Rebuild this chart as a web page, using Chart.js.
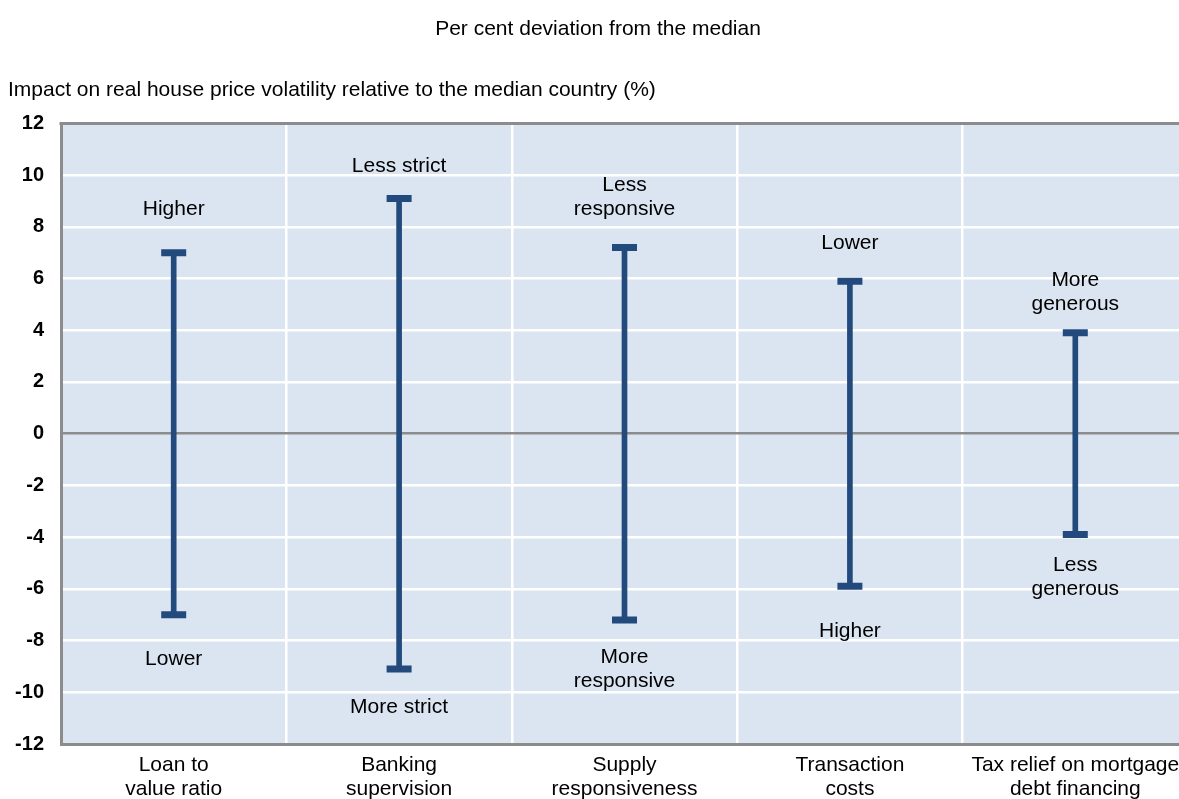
<!DOCTYPE html>
<html>
<head>
<meta charset="utf-8">
<script src="https://cdn.jsdelivr.net/npm/chart.js@4/dist/chart.umd.min.js"></script>
<style>
  html, body { margin: 0; padding: 0; background: #fff; overflow: hidden; }
  #wrap { width: 1190px; height: 799px; }
</style>
</head>
<body>
<div id="wrap"><canvas id="rangeChart" width="1190" height="799"></canvas></div>
<script>
// categories and ranges (per cent deviation from the median)
var categories = [
  ["Loan to", "value ratio"],
  ["Banking", "supervision"],
  ["Supply", "responsiveness"],
  ["Transaction", "costs"],
  ["Tax relief on mortgage", "debt financing"]
];
var highs = [7.0, 9.1, 7.2, 5.9, 3.9];
var lows = [-7.0, -9.1, -7.2, -5.9, -3.9];
var topLabels = [["Higher"], ["Less strict"], ["Less", "responsive"], ["Lower"], ["More", "generous"]];
var bottomLabels = [["Lower"], ["More strict"], ["More", "responsive"], ["Higher"], ["Less", "generous"]];
var yTicks = [12, 10, 8, 6, 4, 2, 0, -2, -4, -6, -8, -10, -12];

var barColor = '#234a7c';
var FONT = "'Liberation Sans', Arial, sans-serif";

// plot background + top border
var plotBg = {
  id: 'plotBg',
  beforeDraw: function (chart) {
    var a = chart.chartArea, ctx = chart.ctx;
    ctx.save();
    ctx.fillStyle = '#dbe5f1';
    ctx.fillRect(a.left, a.top, a.right - a.left, a.bottom - a.top);
    ctx.restore();
  },
  afterDraw: function (chart) {
    var a = chart.chartArea, ctx = chart.ctx;
    ctx.save();
    ctx.strokeStyle = '#8c8c8c';
    ctx.lineWidth = 3;
    ctx.beginPath();
    ctx.moveTo(a.left - 1.5, a.top);
    ctx.lineTo(a.right, a.top);
    ctx.stroke();
    ctx.restore();
  }
};

// text above / below each range
var rangeLabels = {
  id: 'rangeLabels',
  afterDatasetsDraw: function (chart, args, opts) {
    var ctx = chart.ctx, xs = chart.scales.x, ys = chart.scales.y;
    ctx.save();
    ctx.font = '21px ' + FONT;
    ctx.fillStyle = '#000';
    ctx.textAlign = 'center';
    ctx.textBaseline = 'middle';
    for (var i = 0; i < categories.length; i++) {
      var x = xs.getPixelForValue(i);
      var yt = ys.getPixelForValue(highs[i]) - opts.topGap[i];
      var tl = topLabels[i];
      for (var j = 0; j < tl.length; j++) {
        ctx.fillText(tl[j], x, yt - (tl.length - 1 - j) * opts.lineHeight);
      }
      var yb = ys.getPixelForValue(lows[i]) + opts.bottomGap[i];
      var bl = bottomLabels[i];
      for (var k = 0; k < bl.length; k++) {
        ctx.fillText(bl[k], x, yb + k * opts.lineHeight);
      }
    }
    ctx.restore();
  }
};

var rangeData = lows.map(function (l, i) { return [l, highs[i]]; });

new Chart(document.getElementById('rangeChart').getContext('2d'), {
  type: 'bar',
  data: {
    labels: categories,
    datasets: [
      {
        data: rangeData,
        backgroundColor: barColor,
        barThickness: 5,
        borderSkipped: false
      },
      {
        type: 'line',
        data: highs,
        showLine: false,
        pointStyle: 'line',
        pointRadius: 12.5,
        pointBorderWidth: 7,
        pointBorderColor: barColor,
        pointBackgroundColor: barColor
      },
      {
        type: 'line',
        data: lows,
        showLine: false,
        pointStyle: 'line',
        pointRadius: 12.5,
        pointBorderWidth: 7,
        pointBorderColor: barColor,
        pointBackgroundColor: barColor
      }
    ]
  },
  options: {
    responsive: false,
    animation: false,
    layout: { autoPadding: false, padding: { left: 8, right: 2, top: 0, bottom: 0 } },
    plugins: {
      legend: { display: false },
      tooltip: { enabled: false },
      title: {
        display: true,
        text: 'Per cent deviation from the median',
        color: '#000',
        font: { family: FONT, size: 21, weight: 'normal' },
        padding: { top: 17, bottom: 16 }
      },
      subtitle: {
        display: true,
        text: 'Impact on real house price volatility relative to the median country (%)',
        align: 'start',
        color: '#000',
        font: { family: FONT, size: 21 },
        padding: { top: 19, bottom: 21 }
      },
      rangeLabels: { topGap: [43, 32, 38, 38, 29], bottomGap: [44, 38, 37, 45, 31], lineHeight: 24 }
    },
    scales: {
      x: {
        grid: { offset: true, color: '#ffffff', lineWidth: 2.5, drawTicks: false },
        border: { display: true, color: '#8c8c8c', width: 3 },
        ticks: {
          color: '#000',
          font: { family: FONT, size: 21, lineHeight: 1.15 },
          padding: 9,
          maxRotation: 0,
          autoSkip: false
        },
        afterFit: function (s) { s.height = 55; s.paddingLeft = 0; s.paddingRight = 0; }
      },
      y: {
        min: -12,
        max: 12,
        afterBuildTicks: function (s) { s.ticks = yTicks.map(function (v) { return { value: v }; }); },
        grid: {
          drawTicks: false,
          color: function (c) { return c.tick && c.tick.value === 0 ? '#8c8c8c' : '#ffffff'; },
          lineWidth: 2.5
        },
        border: { display: true, color: '#8c8c8c', width: 3 },
        ticks: {
          color: '#000',
          font: { family: FONT, size: 20, weight: 'bold' },
          padding: 17
        },
        afterFit: function (s) { s.width = 53; }
      }
    }
  },
  plugins: [plotBg, rangeLabels]
});
</script>
</body>
</html>
